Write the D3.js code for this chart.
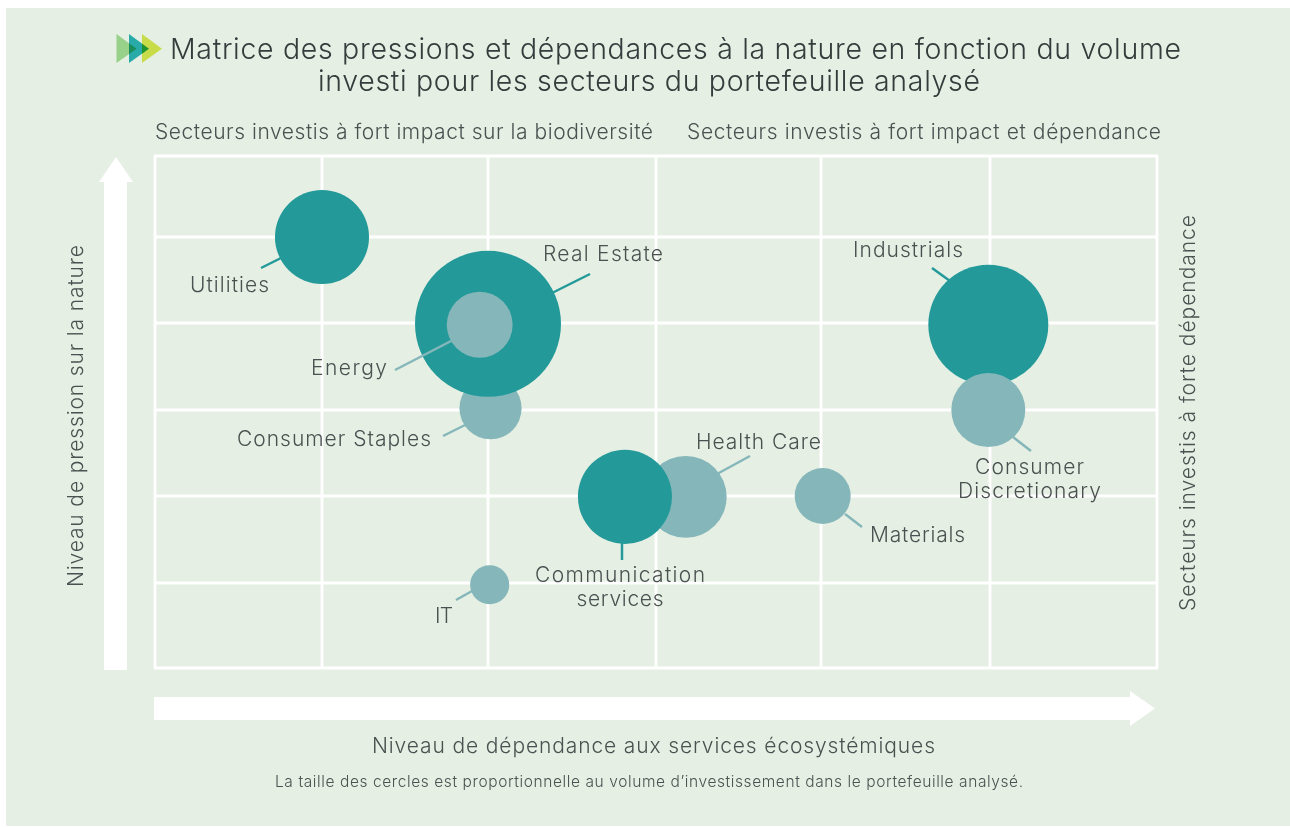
<!DOCTYPE html>
<html lang="fr"><head><meta charset="utf-8">
<script src="https://cdnjs.cloudflare.com/ajax/libs/d3/7.8.5/d3.min.js"></script>
<style>
html,body{margin:0;padding:0;background:#fff}
svg{display:block}
text{font-family:Inter,Lato,"Open Sans",sans-serif;font-weight:300;fill:#4a5150;font-variant-ligatures:none}
</style></head><body>
<svg id="c" width="1290" height="827"></svg>
<script>
// ---- data ----
const sectors  = ["Consumer Staples","Real Estate","Energy","Utilities","Health Care","Communication services","Materials","IT","Industrials","Consumer Discretionary"];
const pressure = [3.02,3.99,3.98,5.0,1.99,1.99,2.0,0.98,3.98,3.0];
const dependence = [2.015,2.0,1.95,1.0,3.18,2.815,4.01,2.01,4.99,4.99];
const volume   = [9.6,53,10.8,22,16.7,22,7.8,3.8,35.8,13.6];
const group    = ["b","a","b","a","b","a","b","b","a","b"];
const ticks    = [0,1,2,3,4,5,6];

const titleLines = ["Matrice des pressions et dépendances à la nature en fonction du volume","investi pour les secteurs du portefeuille analysé"];
const quadrantLeft = "Secteurs investis à fort impact sur la biodiversité";
const quadrantRight = "Secteurs investis à fort impact et dépendance";
const axisX = "Niveau de dépendance aux services écosystémiques";
const axisY = "Niveau de pression sur la nature";
const axisY2 = "Secteurs investis à forte dépendance";
const note = "La taille des cercles est proportionnelle au volume d’investissement dans le portefeuille analysé.";

// ---- layout ----
const x = d3.scaleLinear().domain(ticks).range([155,322,488,656,821,990,1157]);
const y = d3.scaleLinear().domain(ticks).range([668,583,496,410,323,237,156]);
const r = d3.scaleSqrt().domain([0,53]).range([0,73]);
const colour = d3.scaleOrdinal().domain(["a","b"]).range(["#239A99","#85B7BA"]);

// label anchor, fitted text widths, leader segment per sector
const annotate = {
 "Utilities":{lines:["Utilities"],w:[79],tx:229.5,ty:292,lead:[261,268,281,258]},
 "Real Estate":{lines:["Real Estate"],w:[120],tx:603,ty:261,lead:[552,293,590,274]},
 "Energy":{lines:["Energy"],w:[76],tx:349,ty:375,lead:[395,370,453,340]},
 "Consumer Staples":{lines:["Consumer Staples"],w:[194],tx:334,ty:446,lead:[443,436,465,425]},
 "Industrials":{lines:["Industrials"],w:[110],tx:908,ty:257,lead:[932,268,950,281]},
 "Consumer Discretionary":{lines:["Consumer","Discretionary"],w:[109,143],tx:1029.5,ty:474,lead:[1013,437,1031,451]},
 "Health Care":{lines:["Health Care"],w:[125],tx:758.5,ty:449,lead:[717,474,750,456]},
 "Materials":{lines:["Materials"],w:[95],tx:917.5,ty:542,lead:[845,514,862,527]},
 "Communication services":{lines:["Communication","services"],w:[170,87],tx:620,ty:582,lead:[622,543,622,560]},
 "IT":{lines:["IT"],w:[18],tx:444,ty:623,lead:[456,600,472,591]}
};

const svg = d3.select("#c");
svg.append("rect").attr("x",6).attr("y",8).attr("width",1284).attr("height",818).attr("fill","#E6EFE4");

// logo
const logo = svg.append("g").style("isolation","isolate");
[[116.5,"#97D18A"],[129,"#28ABA8"],[142,"#C8DC4A"]].forEach(([lx,c])=>{
  logo.append("path").attr("d",d3.line()([[lx,34],[lx+20,48.7],[lx,63]])+"Z").attr("fill",c).style("mix-blend-mode","multiply");
});

function fit(sel,w){ return sel.attr("textLength",w).attr("lengthAdjust","spacing"); }

// title
const titleW=[1011,662];
svg.append("g").selectAll("text").data(titleLines).join("text")
  .attr("x",(d,i)=>i?649:675.5).attr("y",(d,i)=>59+i*32).attr("text-anchor","middle")
  .attr("font-size",28.5).style("fill","#343c3c").attr("textLength",(d,i)=>titleW[i]).attr("lengthAdjust","spacing").text(d=>d);

fit(svg.append("text").attr("x",155).attr("y",139).attr("font-size",21).text(quadrantLeft),498);
fit(svg.append("text").attr("x",687).attr("y",139).attr("font-size",21).text(quadrantRight),474);

// grid
const grid = svg.append("g").attr("stroke","#fff").attr("stroke-width",2.8).attr("fill","none");
grid.selectAll("line.v").data(ticks).join("line").attr("class","v")
  .attr("x1",d=>x(d)).attr("x2",d=>x(d)).attr("y1",y(0)).attr("y2",y(6));
grid.selectAll("line.h").data(ticks).join("line").attr("class","h")
  .attr("y1",d=>y(d)).attr("y2",d=>y(d)).attr("x1",x(0)-1).attr("x2",x(6)+1);

// arrows
svg.append("path").attr("fill","#fff").attr("d","M104,670V182H99L116,157L133,182H127V670Z");
svg.append("path").attr("fill","#fff").attr("d","M154,697H1130V691L1155,708.5L1130,726V720H154Z");

// bubbles
const idx = d3.range(sectors.length);
svg.append("g").selectAll("circle").data(idx).join("circle")
  .attr("cx",i=>x(dependence[i])).attr("cy",i=>y(pressure[i])).attr("r",i=>r(volume[i]))
  .attr("fill",i=>colour(group[i]));

// leaders
svg.append("g").selectAll("line").data(idx).join("line")
  .attr("x1",i=>annotate[sectors[i]].lead[0]).attr("y1",i=>annotate[sectors[i]].lead[1])
  .attr("x2",i=>annotate[sectors[i]].lead[2]).attr("y2",i=>annotate[sectors[i]].lead[3])
  .attr("stroke",i=>colour(group[i])).attr("stroke-width",2.5);

// labels
const lab = svg.append("g").attr("text-anchor","middle").attr("font-size",21);
idx.forEach(i=>{
  const a = annotate[sectors[i]];
  a.lines.forEach((t,k)=>fit(lab.append("text").attr("x",a.tx).attr("y",a.ty+k*24).text(t),a.w[k]));
});

// axis titles
fit(svg.append("text").attr("x",653.5).attr("y",753).attr("text-anchor","middle").attr("font-size",21).text(axisX),563);
fit(svg.append("text").attr("x",649).attr("y",787).attr("text-anchor","middle").attr("font-size",15.5).text(note),748);
fit(svg.append("text").attr("transform","translate(83,416) rotate(-90)").attr("text-anchor","middle").attr("font-size",21).text(axisY),342);
fit(svg.append("text").attr("transform","translate(1195,413) rotate(-90)").attr("text-anchor","middle").attr("font-size",21).text(axisY2),396);
</script>
</body></html>
